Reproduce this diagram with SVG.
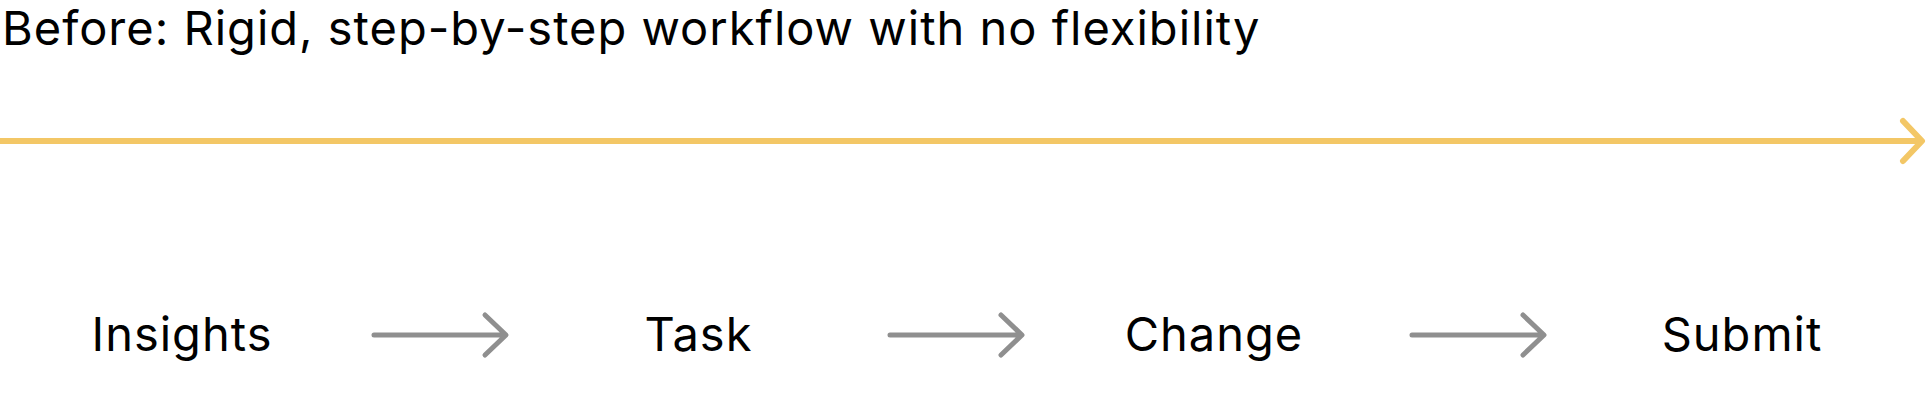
<svg xmlns="http://www.w3.org/2000/svg" width="1926" height="408" viewBox="0 0 1926 408">
<style>
.t{font-family:Inter,"Liberation Sans",sans-serif;fill:#000;font-size:47px;letter-spacing:1px}
.lbl{text-anchor:middle}
.gray{stroke:#8f8f8f;stroke-width:5;fill:none;stroke-linecap:round;stroke-linejoin:round}
.yel{stroke:#f3c766;stroke-width:6;fill:none;stroke-linecap:round;stroke-linejoin:round}
</style>
<rect width="1926" height="408" fill="#fff"/>
<g id="title"><text class="t" x="2" y="45">Before: Rigid, step-by-step workflow with no flexibility</text></g>
<g id="connectors">
<path class="yel" d="M0 141H1921M1903 121L1922 141L1903 161"/>
<path class="gray" d="M374 335H505M485 315L506 335L485 355"/>
<path class="gray" d="M890 335H1021M1001 315L1022 335L1001 355"/>
<path class="gray" d="M1412 335H1543M1523 315L1544 335L1523 355"/>
</g>
<g id="insights"><text class="t lbl" x="182" y="351">Insights</text></g>
<g id="task"><text class="t lbl" x="698.5" y="351">Task</text></g>
<g id="change"><text class="t lbl" x="1214" y="351">Change</text></g>
<g id="submit"><text class="t lbl" x="1742" y="351">Submit</text></g>
</svg>
